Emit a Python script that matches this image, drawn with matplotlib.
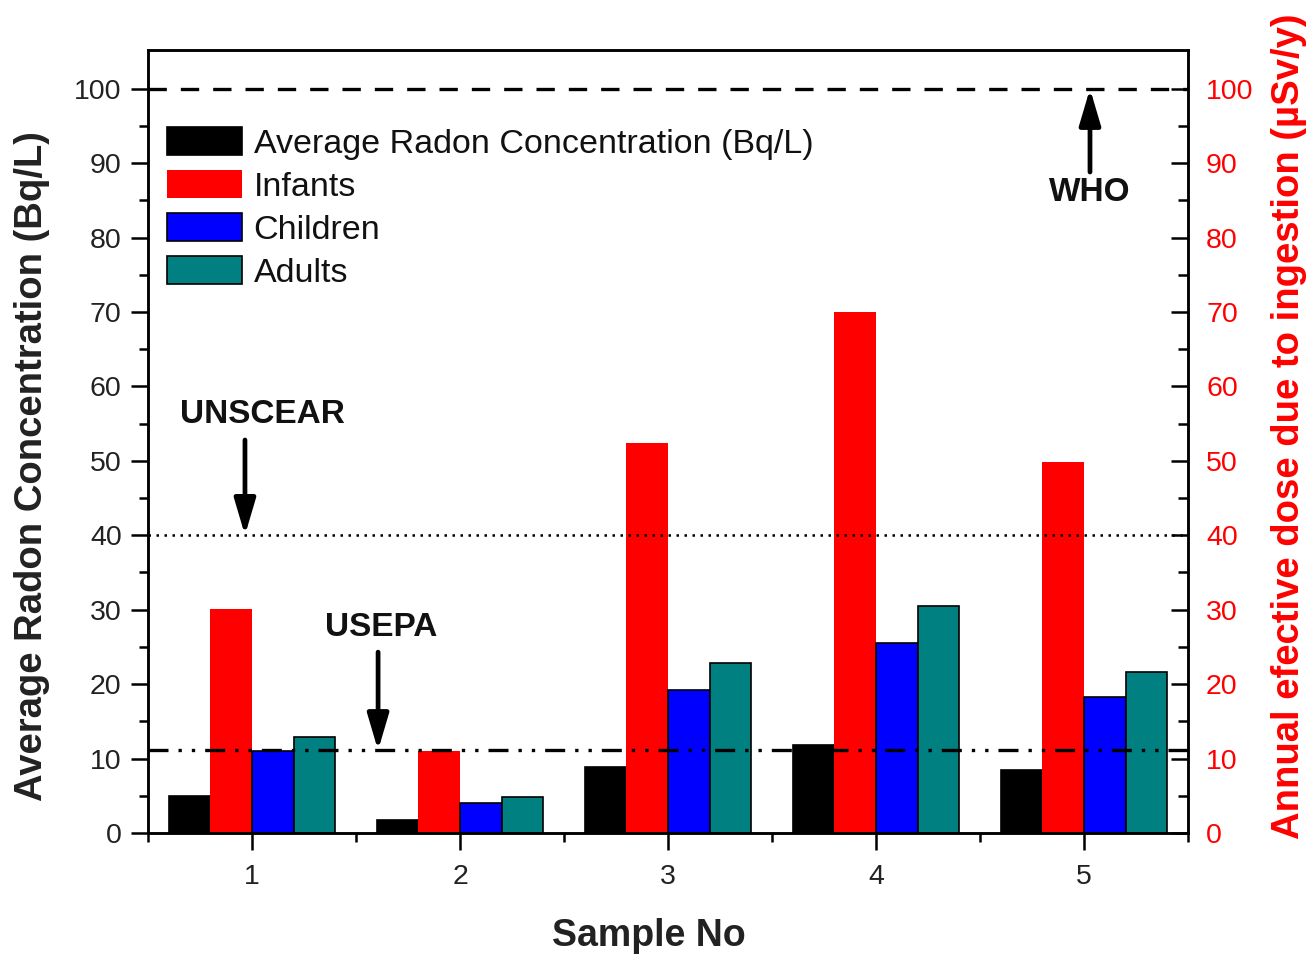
import matplotlib
matplotlib.use("Agg")
import matplotlib.pyplot as plt
import numpy as np

plt.rcParams['font.family'] = ['Liberation Sans', 'DejaVu Sans']

samples = [1, 2, 3, 4, 5]
sample_labels = ['1', '2', '3', '4', '5']
radon = [5.0, 1.7, 8.9, 11.8, 8.5]
infants = [30.1, 11.0, 52.4, 70.0, 49.9]
children = [11.0, 4.0, 19.2, 25.5, 18.3]
adults = [12.9, 4.8, 22.8, 30.5, 21.6]
series_names = ['Average Radon Concentration (Bq/L)', 'Infants', 'Children', 'Adults']
who_limit = 100
unscear_limit = 40
usepa_limit = 11.1
yticks = [0, 10, 20, 30, 40, 50, 60, 70, 80, 90, 100]

colors = ['#000000', '#ff0000', '#0000ff', '#008080']
edges = ['black', 'none', 'black', 'black']

fig = plt.figure(figsize=(13.16, 9.57), dpi=100)
ax = fig.add_axes([0.1125, 0.1296, 0.7902, 0.8182])

x = np.array(samples, dtype=float)
w = 0.2
offsets = [-0.3, -0.1, 0.1, 0.3]
data = [radon, infants, children, adults]
for vals, off, c, ec, name in zip(data, offsets, colors, edges, series_names):
    ax.bar(x + off, vals, width=w, color=c, edgecolor=ec, linewidth=1.2, label=name, zorder=2)

ax.set_xlim(0.5, 5.5)
ax.set_ylim(0, 105.2)

ax.axhline(who_limit, color='black', lw=2.4, dashes=(5.5, 4.2), zorder=3)
ax.axhline(unscear_limit, color='black', lw=1.8, linestyle=(0, (1, 2.2)), zorder=3)
ax.axhline(usepa_limit, color='black', lw=2.4, linestyle=(0, (6, 3, 1, 3, 1, 3)), zorder=3)

arrow_kw = dict(arrowstyle='-|>,head_length=2.2,head_width=0.65', lw=3.4, color='black',
                shrinkA=0, shrinkB=0)
ax.annotate('', xy=(0.966, unscear_limit), xytext=(0.966, 52.8), arrowprops=arrow_kw, zorder=4)
ax.text(1.05, 56.2, 'UNSCEAR', ha='center', va='center', fontsize=24, fontweight='bold', color='#111111')
ax.annotate('', xy=(1.606, usepa_limit), xytext=(1.606, 24.3), arrowprops=arrow_kw, zorder=4)
ax.text(1.62, 27.6, 'USEPA', ha='center', va='center', fontsize=24, fontweight='bold', color='#111111')
ax.annotate('', xy=(5.029, who_limit), xytext=(5.029, 88.8), arrowprops=arrow_kw, zorder=4)
ax.text(5.03, 86.0, 'WHO', ha='center', va='center', fontsize=24, fontweight='bold', color='#111111')

ax.set_xticks(samples)
ax.set_xticklabels(sample_labels)
ax.set_xticks([0.5, 1.5, 2.5, 3.5, 4.5, 5.5], minor=True)
ax.set_yticks(yticks)
ax.set_yticks(np.arange(5, 105, 10), minor=True)

for s in ax.spines.values():
    s.set_linewidth(1.8)

ax.tick_params(axis='both', which='major', direction='out', length=12, width=1.8,
               labelsize=20.5, labelcolor='#222222', pad=7)
ax.tick_params(axis='both', which='minor', direction='out', length=6.5, width=1.8)
ax.tick_params(axis='x', which='major', pad=10)

ax.set_xlabel('Sample No', fontsize=27, fontweight='bold', color='#222222')
ax.xaxis.set_label_coords(0.482, -0.108)
ax.set_ylabel('Average Radon Concentration (Bq/L)', fontsize=27.5, fontweight='bold', color='#222222')
ax.yaxis.set_label_coords(-0.094, 0.468)

ax2 = ax.twinx()
ax2.set_ylim(0, 105.2)
ax2.set_yticks(yticks)
ax2.set_yticks(np.arange(5, 105, 10), minor=True)
ax2.tick_params(axis='y', which='major', direction='in', length=12, width=1.8,
                labelsize=20.5, labelcolor='#ff0000', pad=13)
ax2.tick_params(axis='y', which='minor', direction='in', length=7, width=1.8)
ax2.set_ylabel('Annual efective dose due to ingestion (µSv/y)', fontsize=27.5, fontweight='bold',
               color='#ff0000')
ax2.yaxis.set_label_coords(1.08, 0.52)
for s in ax2.spines.values():
    s.set_linewidth(1.8)

leg = ax.legend(loc='upper left', bbox_to_anchor=(0.018, 0.902), frameon=False, fontsize=24.5,
                handlelength=2.2, handleheight=0.9, handletextpad=0.35, labelspacing=0.3,
                borderaxespad=0, borderpad=0)
for t in leg.get_texts():
    t.set_color('#111111')

fig.savefig('out.png', dpi=100)
